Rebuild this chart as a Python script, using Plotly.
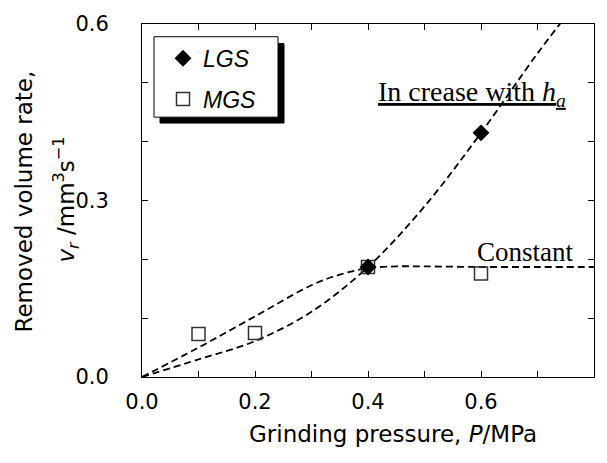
import plotly.graph_objects as go

# ---- data ----
lgs_p = [0.4, 0.6]
lgs_v = [0.187, 0.415]
mgs_p = [0.1, 0.2, 0.4, 0.6]
mgs_v = [0.073, 0.075, 0.187, 0.176]

lgs_curve_p = [0.0, 0.1, 0.2, 0.3, 0.4, 0.5, 0.6, 0.7, 0.78]
lgs_curve_v = [0.0, 0.03, 0.061, 0.111, 0.187, 0.29, 0.415, 0.55, 0.65]
mgs_curve_p = [0.0, 0.1, 0.2, 0.3, 0.35, 0.4, 0.45, 0.5, 0.6, 0.7, 0.8]
mgs_curve_v = [0.0, 0.05, 0.103, 0.156, 0.174, 0.185, 0.188, 0.188, 0.187, 0.187, 0.187]

x_ticks = [0.0, 0.2, 0.4, 0.6, 0.8]
x_labels = ["0.0", "0.2", "0.4", "0.6", "0.8"]
y_ticks = [0.0, 0.3, 0.6]
y_labels = ["0.0", "0.3", "0.6"]

W, H = 607, 463
L, R, T, B = 142, 13, 17, 86
PW, PH = W - L - R, H - T - B


def px(x):
    return (x - L) / PW


def py(y):
    return (H - B - y) / PH


SANS = "DejaVu Sans"
LEG = "Liberation Sans"
SERIF = "Liberation Serif"

fig = go.Figure()
dash = dict(color="black", width=1.8, dash="7px,4px")
fig.add_trace(go.Scatter(x=mgs_curve_p, y=mgs_curve_v, mode="lines", line=dict(shape="spline", **dash),
                         showlegend=False, hoverinfo="skip"))
fig.add_trace(go.Scatter(x=lgs_curve_p, y=lgs_curve_v, mode="lines", line=dict(shape="spline", **dash),
                         showlegend=False, hoverinfo="skip"))
fig.add_trace(go.Scatter(x=mgs_p, y=mgs_v, mode="markers", name="<i>MGS</i>", legendrank=2,
                         legendgroup="b",
                         marker=dict(symbol="square-open", size=13, color="#333333", line=dict(width=1.5))))
fig.add_trace(go.Scatter(x=lgs_p, y=lgs_v, mode="markers", name="<i>LGS</i>", legendrank=1,
                         legendgroup="a",
                         marker=dict(symbol="diamond", size=13, color="black")))

axis_common = dict(showline=True, linecolor="black", linewidth=1, mirror="ticks", ticks="inside",
                   ticklen=6, tickcolor="black", showgrid=False, zeroline=False,
                   tickfont=dict(family=SANS, size=21, color="black"))
fig.update_xaxes(range=[0, 0.8], tickvals=x_ticks, ticktext=x_labels, ticklabelstandoff=6,
                 minor=dict(dtick=0.1, ticks="inside", ticklen=6, tickcolor="black"), **axis_common)
fig.update_yaxes(range=[0, 0.6], tickvals=y_ticks, ticktext=y_labels, ticklabelstandoff=28,
                 minor=dict(dtick=0.1, ticks="inside", ticklen=6, tickcolor="black"), **axis_common)

shapes = [
    dict(type="rect", xref="paper", yref="paper", x0=px(160), x1=px(284), y0=py(118), y1=py(37),
         fillcolor="black", line=dict(color="black", width=1), layer="above"),
    dict(type="rect", xref="paper", yref="paper", x0=px(154), x1=px(278), y0=py(112), y1=py(30),
         fillcolor="white", line=dict(color="black", width=1), layer="above"),
]

annotations = [
    dict(text="Grinding pressure, <i>P</i>/MPa", x=px(393), y=py(435), xref="paper", yref="paper",
         showarrow=False, xanchor="center", yanchor="middle", font=dict(family=SANS, size=23, color="black")),
    dict(text="Removed volume rate,", x=px(24), y=py(198), xref="paper", yref="paper", textangle=-90,
         showarrow=False, xanchor="center", yanchor="middle", font=dict(family=SANS, size=23, color="black")),
    dict(text="<i>v<sub>r</sub></i> /mm<sup>3</sup>s<sup>−1</sup>", x=px(66), y=py(196), xref="paper",
         yref="paper", textangle=-90, showarrow=False, xanchor="center", yanchor="middle",
         font=dict(family=SANS, size=23, color="black")),
    dict(text="<u>In crease with <i>h<sub>a</sub></i></u>", x=px(376), y=py(88), xref="paper", yref="paper",
         showarrow=False, xanchor="left", yanchor="middle", font=dict(family=SERIF, size=28, color="black")),
    dict(text="Constant", x=px(475), y=py(250), xref="paper", yref="paper",
         showarrow=False, xanchor="left", yanchor="middle", font=dict(family=SERIF, size=27, color="black")),
]

fig.update_layout(
    width=W, height=H, margin=dict(l=L, r=R, t=T, b=B),
    paper_bgcolor="white", plot_bgcolor="white",
    shapes=shapes, annotations=annotations,
    legend=dict(x=px(163), y=py(30), xanchor="left", yanchor="top", bgcolor="rgba(0,0,0,0)",
                borderwidth=0, traceorder="grouped", tracegroupgap=8, itemwidth=30,
                font=dict(family=LEG, size=23, color="black")),
)

fig.write_html("out.html")
